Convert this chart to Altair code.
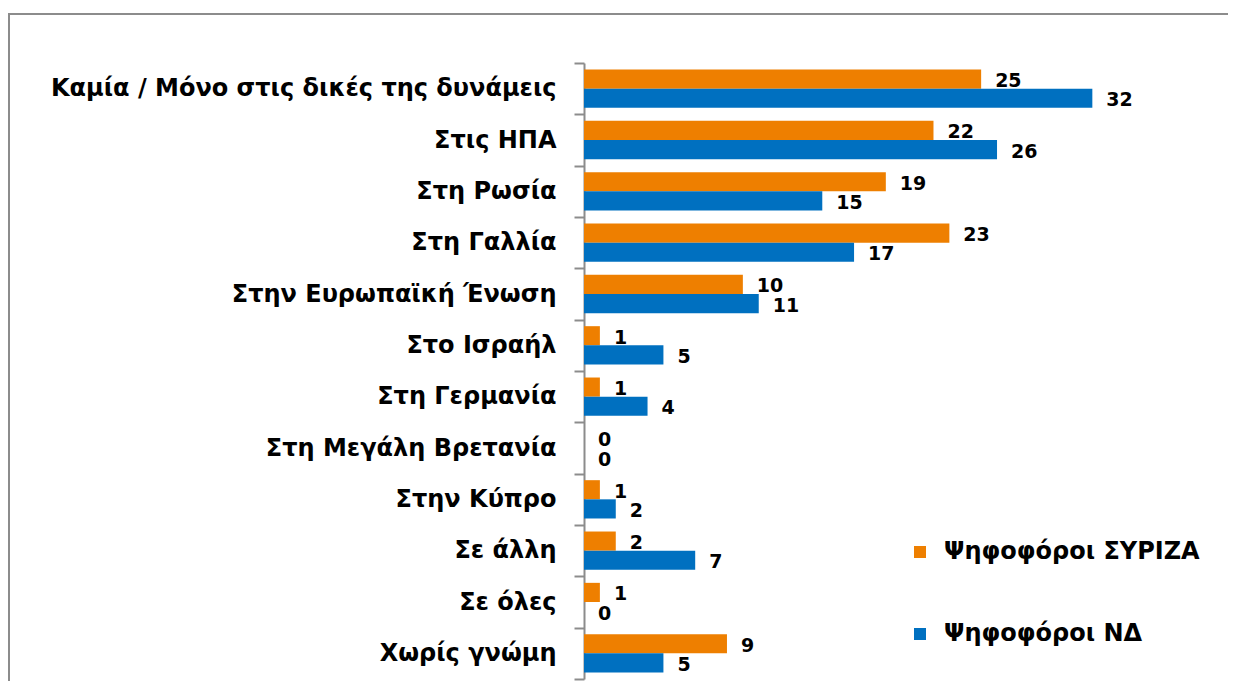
import altair as alt
import pandas as pd

categories = [
    "Καμία / Μόνο στις δικές της δυνάμεις",
    "Στις ΗΠΑ",
    "Στη Ρωσία",
    "Στη Γαλλία",
    "Στην Ευρωπαϊκή Ένωση",
    "Στο Ισραήλ",
    "Στη Γερμανία",
    "Στη Μεγάλη Βρετανία",
    "Στην Κύπρο",
    "Σε άλλη",
    "Σε όλες",
    "Χωρίς γνώμη",
]
series_names = ["Ψηφοφόροι ΣΥΡΙΖΑ", "Ψηφοφόροι ΝΔ"]
syriza = [25, 22, 19, 23, 10, 1, 1, 0, 1, 2, 1, 9]
nd = [32, 26, 15, 17, 11, 5, 4, 0, 2, 7, 0, 5]
colors = ["#EE7F00", "#0070C0"]

rows = []
for c, a, b in zip(categories, syriza, nd):
    rows.append({"cat": c, "series": series_names[0], "value": a})
    rows.append({"cat": c, "series": series_names[1], "value": b})
df = pd.DataFrame(rows)

FONT = "DejaVu Sans"
W, H = 556, 616
PAD = {"left": 576, "top": 55, "right": 88, "bottom": 2}

y_enc = alt.Y(
    "cat:N",
    sort=categories,
    scale=alt.Scale(paddingInner=0, paddingOuter=0),
    axis=alt.Axis(
        title=None,
        tickBand="extent",
        tickSize=10,
        tickWidth=2,
        tickColor="#8c8c8c",
        domainColor="#8c8c8c",
        domainWidth=2,
        labelFont=FONT,
        labelFontSize=24,
        labelFontWeight="bold",
        labelColor="#000000",
        labelPadding=18,
        labelLimit=700,
    ),
)
yoff = alt.YOffset(
    "series:N", sort=series_names, scale=alt.Scale(paddingOuter=0.34, paddingInner=0)
)
x_enc = alt.X(
    "value:Q", scale=alt.Scale(domain=[0, 35], nice=False), axis=None
)

base = alt.Chart(df)

bars = base.mark_bar().encode(
    y=y_enc,
    yOffset=yoff,
    x=x_enc,
    color=alt.Color(
        "series:N",
        sort=series_names,
        scale=alt.Scale(domain=series_names, range=colors),
        legend=alt.Legend(
            title=None,
            orient="none",
            legendX=324,
            legendY=477,
            symbolType="square",
            symbolSize=144,
            symbolStrokeWidth=0,
            labelFont=FONT,
            labelFontSize=24,
            labelFontWeight="bold",
            labelColor="#000000",
            labelOffset=12,
            rowPadding=58,
            padding=0,
            labelLimit=500,
        ),
    ),
)

labels = base.mark_text(
    align="left", baseline="middle", dx=14, dy=2,
    font=FONT, fontSize=19, fontWeight="bold", color="#000000",
).encode(
    y=alt.Y("cat:N", sort=categories),
    yOffset=alt.YOffset("series:N", sort=series_names),
    x=alt.X("value:Q"),
    text=alt.Text("value:Q"),
)

frame_data = alt.Data(values=[{"b": 1}])
top_line = alt.Chart(frame_data).mark_rule(
    stroke="#8c8c8c", strokeWidth=2
).encode(
    x=alt.value(-575), x2=alt.value(W + PAD["right"]),
    y=alt.value(-49),
)
left_line = alt.Chart(frame_data).mark_rule(
    stroke="#8c8c8c", strokeWidth=2
).encode(
    x=alt.value(-575),
    y=alt.value(-50), y2=alt.value(H + PAD["bottom"]),
)

chart = alt.layer(bars, labels, top_line, left_line).properties(
    width=W,
    height=H,
    autosize=alt.AutoSizeParams(type="none"),
    padding=PAD,
).configure_view(stroke=None)

chart.save("out.html", embed_options={"renderer": "svg", "actions": False})
